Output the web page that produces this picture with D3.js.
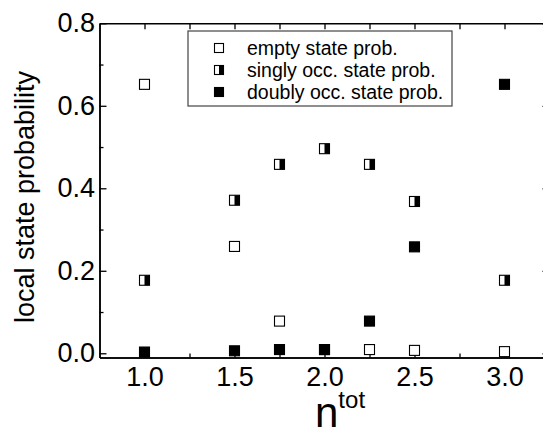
<!DOCTYPE html>
<html>
<head>
<meta charset="utf-8">
<script src="https://cdn.jsdelivr.net/npm/d3@7/dist/d3.min.js"></script>
<style>
  html, body { margin: 0; padding: 0; background: #fff; }
  svg { display: block; font-family: "Liberation Sans", Arial, Helvetica, sans-serif; }
</style>
</head>
<body>
<svg id="chart" width="543" height="435"></svg>
<script>
// Total filling n^tot and the local state probabilities at each filling
const nTot = [1.0, 1.5, 1.75, 2.0, 2.25, 2.5, 3.0];
const emptyProb  = [0.652, 0.259, 0.078, 0.009, 0.009, 0.007, 0.004];
const singlyProb = [0.177, 0.371, 0.458, 0.496, 0.458, 0.368, 0.177];
const doublyProb = [0.003, 0.006, 0.009, 0.009, 0.078, 0.258, 0.652];

const xMajor = [1.0, 1.5, 2.0, 2.5, 3.0];
const xMinor = [1.25, 1.75, 2.25, 2.75];
const yMajor = [0.0, 0.2, 0.4, 0.6, 0.8];
const yMinor = [0.1, 0.3, 0.5, 0.7];

const seriesNames = ["empty state prob.", "singly occ. state prob.", "doubly occ. state prob."];
const seriesStyles = ["empty", "half", "full"];

const svg = d3.select("#chart");
const frame = { left: 99.5, right: 549.5, top: 23.3, bottom: 357.4 };

const x = d3.scaleLinear().domain([0.75, 3.25]).range([frame.left, frame.right]);
const y = d3.scaleLinear().domain([-0.01, 0.8]).range([frame.bottom, frame.top]);

const fmt = d3.format(".1f");

function styleAxis(g) {
  g.selectAll("path.domain").attr("stroke", "#000").attr("stroke-width", 1.5);
  g.selectAll(".tick line").attr("stroke", "#000").attr("stroke-width", 1.3);
  g.selectAll("text").attr("fill", "#000").style("font-size", "27px")
    .style("font-family", "'Liberation Sans', Arial, sans-serif");
}

// bottom axis
svg.append("g").attr("transform", `translate(0,${frame.bottom})`)
  .call(d3.axisBottom(x).tickValues(xMajor).tickFormat(fmt).tickSize(-7).tickSizeOuter(0).tickPadding(9.5))
  .call(styleAxis);
svg.append("g").attr("transform", `translate(0,${frame.bottom})`)
  .call(d3.axisBottom(x).tickValues(xMinor).tickFormat("").tickSize(-4).tickSizeOuter(0))
  .call(styleAxis);

// top axis
svg.append("g").attr("transform", `translate(0,${frame.top})`)
  .call(d3.axisTop(x).tickValues(xMajor.concat(xMinor)).tickFormat("").tickSize(-6).tickSizeOuter(0))
  .call(styleAxis);

// left axis
svg.append("g").attr("transform", `translate(${frame.left},0)`)
  .call(d3.axisLeft(y).tickValues(yMajor).tickFormat(fmt).tickSize(-7).tickSizeOuter(0).tickPadding(4.5))
  .call(styleAxis);
svg.append("g").attr("transform", `translate(${frame.left},0)`)
  .call(d3.axisLeft(y).tickValues(yMinor).tickFormat("").tickSize(-4).tickSizeOuter(0))
  .call(styleAxis);

// right axis
svg.append("g").attr("transform", `translate(${frame.right},0)`)
  .call(d3.axisRight(y).tickValues(yMajor).tickFormat("").tickSize(-7).tickSizeOuter(0))
  .call(styleAxis);
svg.append("g").attr("transform", `translate(${frame.right},0)`)
  .call(d3.axisRight(y).tickValues(yMinor).tickFormat("").tickSize(-4).tickSizeOuter(0))
  .call(styleAxis);

// square markers: hollow, half-filled (right half black) or filled
function drawMarker(g, cx, cy, size, kind) {
  const h = size / 2;
  g.append("rect").attr("x", cx - h).attr("y", cy - h).attr("width", size).attr("height", size)
    .attr("fill", kind === "full" ? "#000" : "#fff");
  if (kind === "half") {
    g.append("rect").attr("x", cx).attr("y", cy - h).attr("width", h).attr("height", size).attr("fill", "#000");
  }
  g.append("rect").attr("x", cx - h).attr("y", cy - h).attr("width", size).attr("height", size)
    .attr("fill", "none").attr("stroke", "#000").attr("stroke-width", 1.1);
}

const allSeries = [emptyProb, singlyProb, doublyProb];
const marks = svg.append("g");
allSeries.forEach((vals, si) => {
  vals.forEach((v, i) => drawMarker(marks, x(nTot[i]), y(v), 10, seriesStyles[si]));
});

// legend
const legend = svg.append("g");
legend.append("rect").attr("x", 188).attr("y", 31).attr("width", 264).attr("height", 75)
  .attr("fill", "#fff").attr("stroke", "#444").attr("stroke-width", 1.2);
seriesNames.forEach((name, i) => {
  const cy = 48 + i * 22;
  drawMarker(legend, 219, cy, 9, seriesStyles[i]);
  legend.append("text").attr("x", 247).attr("y", cy + 7).attr("fill", "#000")
    .style("font-size", "19.5px").text(name);
});

// axis titles
svg.append("text")
  .attr("transform", "translate(34,197) rotate(-90)")
  .attr("text-anchor", "middle").attr("fill", "#000").style("font-size", "27px")
  .text("local state probability");

const xt = svg.append("text").attr("x", 315).attr("y", 427).attr("fill", "#000");
xt.append("tspan").style("font-size", "42px").text("n");
xt.append("tspan").attr("dy", -19).style("font-size", "24px").text("tot");
</script>
</body>
</html>
